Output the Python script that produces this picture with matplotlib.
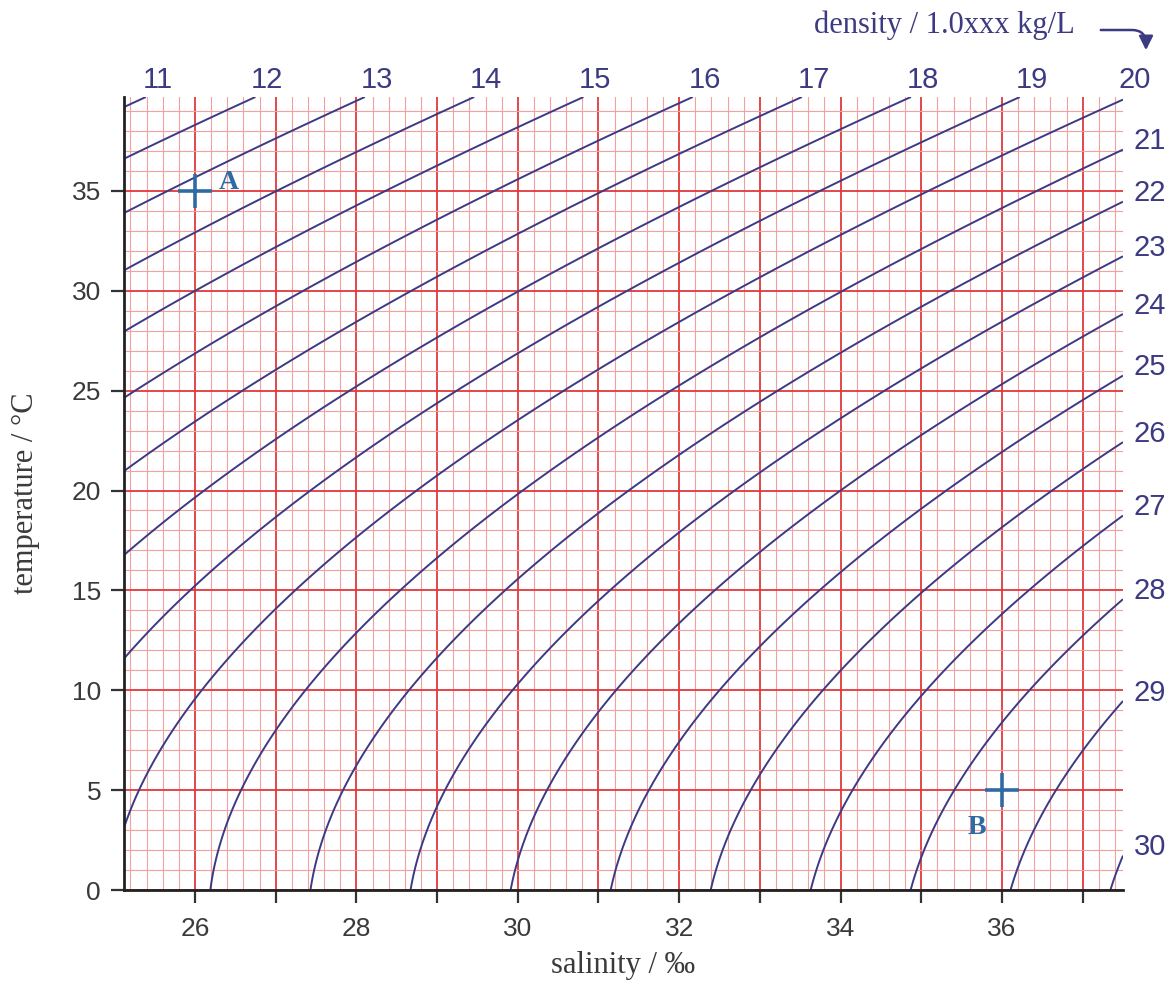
import numpy as np
import matplotlib
matplotlib.use("Agg")
import matplotlib.pyplot as plt
from matplotlib.ticker import MultipleLocator, FuncFormatter
from matplotlib.patches import FancyArrowPatch

# ---------------- data ----------------
density_levels = [11, 12, 13, 14, 15, 16, 17, 18, 19, 20,
                  21, 22, 23, 24, 25, 26, 27, 28, 29, 30]   # sigma = (rho - 1000) kg/m3
salinity_range = [25.12, 37.5]      # per mille
temperature_range = [0.0, 39.7]     # deg C
x_tick_labels = [26, 28, 30, 32, 34, 36]
y_tick_labels = [0, 5, 10, 15, 20, 25, 30, 35]
point_names = ["A", "B"]
point_salinity = [26.0, 36.0]
point_temperature = [35.0, 5.0]

# UNESCO EOS-80 coefficients (surface pressure)
rho_w_coef = [999.842594, 6.793952e-2, -9.095290e-3, 1.001685e-4, -1.120083e-6, 6.536332e-9]
a_coef = [0.824493, -4.0899e-3, 7.6438e-5, -8.2467e-7, 5.3875e-9]
b_coef = [-5.72466e-3, 1.0227e-4, -1.6546e-6]
c_coef = 4.8314e-4


def sigma(S, T):
    rw = sum(c * T ** i for i, c in enumerate(rho_w_coef))
    A = sum(c * T ** i for i, c in enumerate(a_coef))
    B = sum(c * T ** i for i, c in enumerate(b_coef))
    return rw + A * S + B * S ** 1.5 + c_coef * S ** 2 - 1000.0


# ---------------- figure ----------------
W, H = 1176, 990
fig = plt.figure(figsize=(W / 100, H / 100), dpi=100)
L, R, B_, T_ = 124, 1123, 890, 97
ax = fig.add_axes([L / W, 1 - B_ / H, (R - L) / W, (B_ - T_) / H])

line_col = "#3b3a85"
label_col = "#3c3a80"
pt_col = "#2f6aa3"
txt_col = "#3a3a3a"

ax.set_xlim(*salinity_range)
ax.set_ylim(*temperature_range)

ax.xaxis.set_major_locator(MultipleLocator(1))
ax.xaxis.set_minor_locator(MultipleLocator(0.2))
ax.yaxis.set_major_locator(MultipleLocator(5))
ax.yaxis.set_minor_locator(MultipleLocator(1))
ax.xaxis.set_major_formatter(FuncFormatter(
    lambda v, p: f"{int(round(v))}" if int(round(v)) in x_tick_labels else ""))
ax.yaxis.set_major_formatter(FuncFormatter(
    lambda v, p: f"{int(round(v))}" if int(round(v)) in y_tick_labels else ""))

ax.grid(which="minor", color="#f3a0a0", linewidth=0.8)
ax.grid(which="major", color="#e0393c", linewidth=1.3)
ax.set_axisbelow(True)

ax.tick_params(which="major", direction="out", length=9.5, width=1.6,
               color="#333333", labelsize=19, labelcolor=txt_col)
ax.tick_params(axis="x", which="major", pad=10)
ax.tick_params(axis="y", which="major", pad=7)
ax.tick_params(which="minor", length=0)
for lab in ax.get_xticklabels() + ax.get_yticklabels():
    lab.set_fontfamily("Liberation Sans")

for s in ["top", "right"]:
    ax.spines[s].set_visible(False)
for s in ["left", "bottom"]:
    ax.spines[s].set_linewidth(2.0)
    ax.spines[s].set_color("#222222")

# density field and contours
Sg = np.linspace(salinity_range[0], salinity_range[1], 600)
Tg = np.linspace(temperature_range[0], temperature_range[1], 600)
SS, TT = np.meshgrid(Sg, Tg)
ZZ = sigma(SS, TT)
cs = ax.contour(SS, TT, ZZ, levels=density_levels, colors=line_col, linewidths=1.4)

# contour labels at the end of each line (top edge or right edge)
x0, x1 = salinity_range
y0, y1 = temperature_range
for lev, segs in zip(density_levels, cs.allsegs):
    if not segs:
        continue
    pts = np.vstack(segs)
    top_pts = pts[pts[:, 1] > y1 - 0.05]
    right_pts = pts[pts[:, 0] > x1 - 0.01]
    if len(top_pts) or (len(right_pts) and right_pts[:, 1].max() > y1 - 0.6):
        xe = top_pts[:, 0].max() if len(top_pts) else x1
        ax.annotate(str(lev), (xe, y1), xytext=(8.5, 12.5), textcoords="offset points",
                    ha="center", va="center", fontsize=21, color=label_col,
                    family="Liberation Sans", annotation_clip=False)
    else:
        ye = right_pts[:, 1].max()
        ax.annotate(str(lev), (x1, ye), xytext=(19.5, 6), textcoords="offset points",
                    ha="center", va="center", fontsize=21, color=label_col,
                    family="Liberation Sans", annotation_clip=False)

# points A and B
ax.plot(point_salinity, point_temperature, linestyle="none", marker="+",
        markersize=25, markeredgewidth=2.6, color=pt_col, zorder=5)
ax.annotate(point_names[0], (point_salinity[0], point_temperature[0]),
            xytext=(24, 6), textcoords="offset points", ha="center", va="center",
            fontsize=20, fontweight="bold", family="Liberation Serif", color=pt_col)
ax.annotate(point_names[1], (point_salinity[1], point_temperature[1]),
            xytext=(-18, -27), textcoords="offset points", ha="center", va="center",
            fontsize=20, fontweight="bold", family="Liberation Serif", color=pt_col)

# axis titles
fig.text((L + R) / 2 / W, 1 - 966 / H, "salinity / ‰", ha="center", va="center",
         fontsize=22, family="Liberation Serif", color=txt_col)
fig.text(26 / W, 1 - 493 / H, "temperature / °C", ha="center", va="center",
         rotation=90, fontsize=22, family="Liberation Serif", color=txt_col)
fig.text(1075 / W, 1 - 25 / H, "density / 1.0xxx kg/L", ha="right", va="center",
         fontsize=22, family="Liberation Serif", color=label_col)

arr = FancyArrowPatch((1098 / W, 1 - 30 / H), (1146 / W, 1 - 53 / H),
                      transform=fig.transFigure,
                      connectionstyle="angle,angleA=0,angleB=90,rad=14",
                      arrowstyle="-|>,head_length=6,head_width=3",
                      color=label_col, linewidth=1.8, mutation_scale=1.4)
fig.patches.append(arr)

fig.savefig("out.png", dpi=100, facecolor="white")
